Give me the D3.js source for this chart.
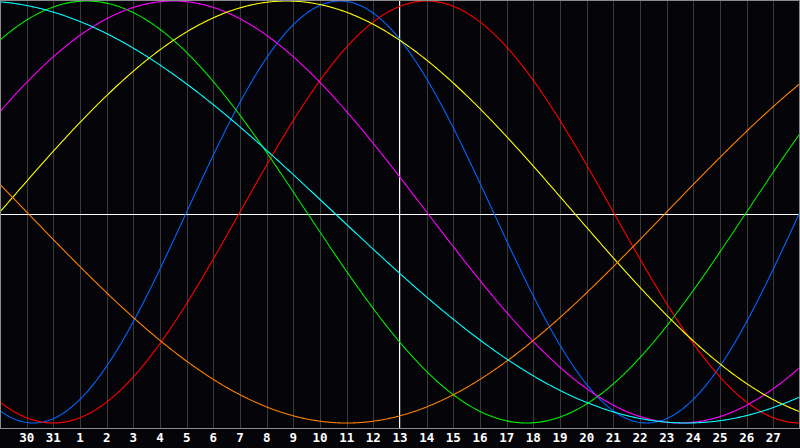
<!DOCTYPE html>
<html>
<head>
<meta charset="utf-8">
<script src="https://cdn.jsdelivr.net/npm/d3@7"></script>
<style>
html,body{margin:0;padding:0;background:#000;}
svg{display:block;}
</style>
</head>
<body>
<svg id="chart" width="800" height="448"></svg>
<script>
// ---- data ----
const cycleNames = ["Physical","Emotional","Intellectual","Intuitive","Aesthetic","Awareness","Spiritual"];
const cyclePeriods = [23, 28, 33, 38, 43, 48, 53];          // days per cycle
const cycleColors = ["#0066ff","#ff0000","#00ee00","#ff00ff","#ffff00","#ff8000","#00ffff"];
const daysSinceBirthAtStart = 29111;                         // day age at left edge of chart
const dayLabels = ["30","31","1","2","3","4","5","6","7","8","9","10","11","12","13","14","15","16","17","18","19","20","21","22","23","24","25","26","27"];
const labelStart = 1;        // day index of first label
const todayIndex = 15;       // day index of the highlighted day ("13")
const daySpan = 30;          // days shown across the chart

// ---- layout ----
const W = 800, H = 448, plotBottom = 428;
const svg = d3.select("#chart");
svg.append("rect").attr("width", W).attr("height", H).attr("fill", "#050409");

const x = d3.scaleLinear().domain([0, daySpan]).range([0, W]);
const y = d3.scaleLinear().domain([-1, 1]).range([423, 1]);

// vertical day grid
const gridDays = d3.range(labelStart, labelStart + dayLabels.length);
svg.append("g").selectAll("line").data(gridDays).join("line")
  .attr("x1", d => Math.round(x(d)) + 0.5).attr("x2", d => Math.round(x(d)) + 0.5)
  .attr("y1", 0).attr("y2", plotBottom)
  .attr("stroke", "#3a3a3a").attr("stroke-width", 1)
  .attr("shape-rendering", "crispEdges");

// zero line
svg.append("line")
  .attr("x1", 0).attr("x2", W).attr("y1", 214.5).attr("y2", 214.5)
  .attr("stroke", "#ffffff").attr("stroke-width", 1).attr("shape-rendering", "crispEdges");

// today line
svg.append("line")
  .attr("x1", Math.round(x(todayIndex)) - 0.5).attr("x2", Math.round(x(todayIndex)) - 0.5)
  .attr("y1", 0).attr("y2", plotBottom)
  .attr("stroke", "#ffffff").attr("stroke-width", 1).attr("shape-rendering", "crispEdges");

// cycles
const samples = d3.range(0, daySpan + 0.001, 0.05);
const line = d3.line().x(d => x(d[0])).y(d => y(d[1]));
const cycles = cycleNames.map((name, i) => ({
  name, color: cycleColors[i],
  pts: samples.map(t => [t, Math.sin(2 * Math.PI * (daysSinceBirthAtStart + t) / cyclePeriods[i])])
}));
svg.append("g").selectAll("path").data(cycles).join("path")
  .attr("d", d => line(d.pts))
  .attr("fill", "none")
  .attr("stroke", d => d.color)
  .attr("stroke-width", 1.1);

// frame
svg.append("rect").attr("x", 0.5).attr("y", 0.5).attr("width", W - 1).attr("height", plotBottom - 0.5)
  .attr("fill", "none").attr("stroke", "#8a8a8a").attr("stroke-width", 1).attr("shape-rendering", "crispEdges");

// labels
svg.append("g").selectAll("text").data(dayLabels).join("text")
  .attr("x", (d, i) => x(labelStart + i))
  .attr("y", 442)
  .attr("text-anchor", "middle")
  .attr("fill", "#ffffff")
  .attr("font-family", "DejaVu Sans Mono")
  .attr("font-weight", "bold")
  .attr("font-size", 12.5)
  .text(d => d);
</script>
</body>
</html>
